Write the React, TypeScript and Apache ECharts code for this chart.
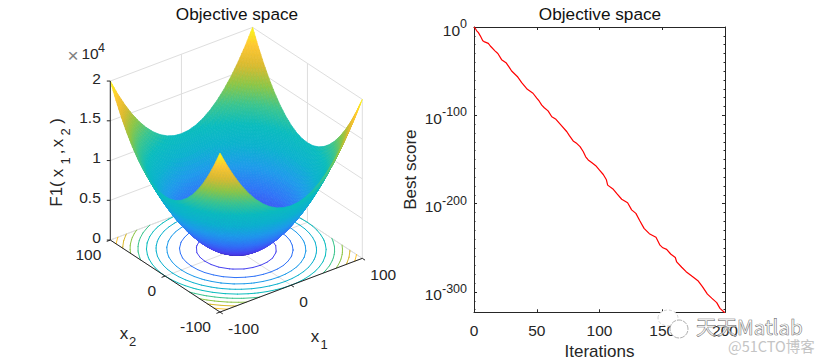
import React, { useEffect, useRef } from "react";
import * as echarts from "echarts";

const FONT = '"Liberation Sans", Arial, sans-serif';
const INK = "#262626";
const GRID = "#dedede";

// ---- left panel: surface samples
const gridX1 = [-100, -90, -80, -70, -60, -50, -40, -30, -20, -10, 0, 10, 20, 30, 40, 50, 60, 70, 80, 90, 100];
const gridX2 = [-100, -90, -80, -70, -60, -50, -40, -30, -20, -10, 0, 10, 20, 30, 40, 50, 60, 70, 80, 90, 100];
const zTable = [
  [20000,18100,16400,14900,13600,12500,11600,10900,10400,10100,10000,10100,10400,10900,11600,12500,13600,14900,16400,18100,20000],
  [18100,16200,14500,13000,11700,10600,9700,9000,8500,8200,8100,8200,8500,9000,9700,10600,11700,13000,14500,16200,18100],
  [16400,14500,12800,11300,10000,8900,8000,7300,6800,6500,6400,6500,6800,7300,8000,8900,10000,11300,12800,14500,16400],
  [14900,13000,11300,9800,8500,7400,6500,5800,5300,5000,4900,5000,5300,5800,6500,7400,8500,9800,11300,13000,14900],
  [13600,11700,10000,8500,7200,6100,5200,4500,4000,3700,3600,3700,4000,4500,5200,6100,7200,8500,10000,11700,13600],
  [12500,10600,8900,7400,6100,5000,4100,3400,2900,2600,2500,2600,2900,3400,4100,5000,6100,7400,8900,10600,12500],
  [11600,9700,8000,6500,5200,4100,3200,2500,2000,1700,1600,1700,2000,2500,3200,4100,5200,6500,8000,9700,11600],
  [10900,9000,7300,5800,4500,3400,2500,1800,1300,1000,900,1000,1300,1800,2500,3400,4500,5800,7300,9000,10900],
  [10400,8500,6800,5300,4000,2900,2000,1300,800,500,400,500,800,1300,2000,2900,4000,5300,6800,8500,10400],
  [10100,8200,6500,5000,3700,2600,1700,1000,500,200,100,200,500,1000,1700,2600,3700,5000,6500,8200,10100],
  [10000,8100,6400,4900,3600,2500,1600,900,400,100,0,100,400,900,1600,2500,3600,4900,6400,8100,10000],
  [10100,8200,6500,5000,3700,2600,1700,1000,500,200,100,200,500,1000,1700,2600,3700,5000,6500,8200,10100],
  [10400,8500,6800,5300,4000,2900,2000,1300,800,500,400,500,800,1300,2000,2900,4000,5300,6800,8500,10400],
  [10900,9000,7300,5800,4500,3400,2500,1800,1300,1000,900,1000,1300,1800,2500,3400,4500,5800,7300,9000,10900],
  [11600,9700,8000,6500,5200,4100,3200,2500,2000,1700,1600,1700,2000,2500,3200,4100,5200,6500,8000,9700,11600],
  [12500,10600,8900,7400,6100,5000,4100,3400,2900,2600,2500,2600,2900,3400,4100,5000,6100,7400,8900,10600,12500],
  [13600,11700,10000,8500,7200,6100,5200,4500,4000,3700,3600,3700,4000,4500,5200,6100,7200,8500,10000,11700,13600],
  [14900,13000,11300,9800,8500,7400,6500,5800,5300,5000,4900,5000,5300,5800,6500,7400,8500,9800,11300,13000,14900],
  [16400,14500,12800,11300,10000,8900,8000,7300,6800,6500,6400,6500,6800,7300,8000,8900,10000,11300,12800,14500,16400],
  [18100,16200,14500,13000,11700,10600,9700,9000,8500,8200,8100,8200,8500,9000,9700,10600,11700,13000,14500,16200,18100],
  [20000,18100,16400,14900,13600,12500,11600,10900,10400,10100,10000,10100,10400,10900,11600,12500,13600,14900,16400,18100,20000],
];
const contourLevels = [2000, 4000, 6000, 8000, 10000, 12000, 14000, 16000, 18000];
const x1Ticks = [-100, 0, 100];
const x2Ticks = [-100, 0, 100];
const zTicks = [0, 5000, 10000, 15000, 20000];
const zTickLabels = ["0", "0.5", "1", "1.5", "2"];
const parulaStops = [
  [62, 38, 168], [71, 66, 240], [48, 115, 248], [30, 155, 235], [12, 178, 206], [10, 188, 190],
  [60, 197, 142], [140, 198, 70], [218, 186, 48], [254, 198, 50], [249, 251, 21],
];

// ---- right panel: convergence curve (log10 of best score)
const iterations = [0, 1, 2, 3.5, 5, 7, 8, 11.4, 13, 16.7, 19, 22, 25.5, 28, 30, 34.5, 38, 42.5, 47, 50, 52, 54, 56, 59, 62, 65.3, 69, 74, 76, 79, 82, 84.5, 87, 89, 91, 94, 97, 100, 103, 105.5, 106.5, 111, 114, 117.7, 122.4, 125.6, 129, 132, 135.5, 139.7, 145, 148.2, 150.5, 153.5, 156.7, 160.4, 161.5, 165.5, 169, 173.5, 178.7, 182, 186, 189.4, 193.4, 196, 199.4, 200];
const bestScoreLog10 = [0, -1.5, -4, -6.4, -10, -15.5, -16.5, -18.5, -21.5, -27, -30, -37, -40.4, -45.5, -49.8, -56, -63, -70.6, -75, -80.5, -84, -88.5, -91.4, -95, -101.6, -104.5, -110.5, -118.6, -123, -129, -132, -135.5, -141, -147, -150.5, -153.7, -157, -162, -167, -173, -179, -183.8, -189, -195, -199, -207, -211, -219, -228, -234, -238, -247, -250, -251.8, -257, -261, -266, -272, -277, -282, -287.6, -294, -302.4, -307, -312, -318.6, -323, -323];
const yMajorExponents = [-300, -200, -100, 0];
const yMinorExponents = [-320, -310, -290, -280, -270, -260, -250, -240, -230, -220, -210, -190, -180, -170, -160, -150, -140, -130, -120, -110, -90, -80, -70, -60, -50, -40, -30, -20, -10];
const xTicks = [0, 50, 100, 150, 200];

// view transform of the left axes
const ORIGIN = [236.3, 249.2];
const X1_DIR = [0.7115, -0.2685];
const X2_DIR = [-0.5485, -0.36];
const Z_SCALE = -159 / 20000;

const project = (x1: number, x2: number, z: number): [number, number] => [
  ORIGIN[0] + X1_DIR[0] * x1 + X2_DIR[0] * x2,
  ORIGIN[1] + X1_DIR[1] * x1 + X2_DIR[1] * x2 + Z_SCALE * z,
];

const parula = (t: number) => {
  const p = Math.max(0, Math.min(1, t)) * (parulaStops.length - 1);
  const i = Math.min(parulaStops.length - 2, Math.floor(p));
  const f = p - i;
  const c = parulaStops[i].map((v, k) => Math.round(v + (parulaStops[i + 1][k] - v) * f));
  return `rgb(${c[0]},${c[1]},${c[2]})`;
};

const SUB = 4;
const surfaceCells: number[][] = [];
for (let j = gridX2.length - 2; j >= 0; j--) {
  for (let i = gridX1.length - 2; i >= 0; i--) surfaceCells.push([i, j]);
}

const renderSurface = (params: any, api: any) => {
  const i = api.value(0);
  const j = api.value(1);
  const x0 = gridX1[i];
  const y0 = gridX2[j];
  const dx = gridX1[i + 1] - x0;
  const dy = gridX2[j + 1] - y0;
  const z00 = zTable[j][i];
  const z10 = zTable[j][i + 1];
  const z01 = zTable[j + 1][i];
  const z11 = zTable[j + 1][i + 1];
  const zAt = (a: number, b: number) =>
    z00 * (1 - a) * (1 - b) + z10 * a * (1 - b) + z01 * (1 - a) * b + z11 * a * b;
  const pt = (a: number, b: number) => api.coord(project(x0 + dx * a, y0 + dy * b, zAt(a, b)));
  const children: any[] = [];
  for (let q = SUB - 1; q >= 0; q--) {
    for (let p = SUB - 1; p >= 0; p--) {
      const a0 = p / SUB, a1 = (p + 1) / SUB, b0 = q / SUB, b1 = (q + 1) / SUB;
      const col = parula(zAt((a0 + a1) / 2, (b0 + b1) / 2) / 20000);
      children.push({
        type: "polygon",
        shape: { points: [pt(a0, b0), pt(a1, b0), pt(a1, b1), pt(a0, b1)] },
        style: { fill: col, stroke: col, lineWidth: 0.7 },
      });
    }
  }
  return { type: "group", children, silent: true };
};

const renderContour = (params: any, api: any) => {
  const level = api.value(0);
  const col = parula(level / 20000);
  const children: any[] = [];
  for (let j = 0; j < gridX2.length - 1; j++) {
    for (let i = 0; i < gridX1.length - 1; i++) {
      const corners = [[i, j], [i + 1, j], [i + 1, j + 1], [i, j + 1]];
      const hits: number[][] = [];
      for (let k = 0; k < 4; k++) {
        const [ai, aj] = corners[k];
        const [bi, bj] = corners[(k + 1) % 4];
        const za = zTable[aj][ai];
        const zb = zTable[bj][bi];
        if (za < level !== zb < level) {
          const f = (level - za) / (zb - za);
          hits.push(api.coord(project(
            gridX1[ai] + (gridX1[bi] - gridX1[ai]) * f,
            gridX2[aj] + (gridX2[bj] - gridX2[aj]) * f,
            0,
          )));
        }
      }
      if (hits.length === 2) {
        children.push({
          type: "line",
          shape: { x1: hits[0][0], y1: hits[0][1], x2: hits[1][0], y2: hits[1][1] },
          style: { stroke: col, lineWidth: 1, lineCap: "round" },
        });
      }
    }
  }
  return { type: "group", children, silent: true };
};

const seg = (api: any, a: [number, number], b: [number, number], stroke: string) => {
  const p = api.coord(a);
  const q = api.coord(b);
  return { type: "line", shape: { x1: p[0], y1: p[1], x2: q[0], y2: q[1] }, style: { stroke, lineWidth: 1 } };
};

const renderWalls = (params: any, api: any) => {
  const c: any[] = [];
  for (const z of zTicks) {
    c.push(seg(api, project(-100, 100, z), project(100, 100, z), GRID));
    c.push(seg(api, project(100, 100, z), project(100, -100, z), GRID));
  }
  for (const x of x1Ticks) {
    c.push(seg(api, project(x, 100, 0), project(x, 100, 20000), GRID));
    c.push(seg(api, project(x, -100, 0), project(x, 100, 0), GRID));
  }
  for (const y of x2Ticks) {
    c.push(seg(api, project(100, y, 0), project(100, y, 20000), GRID));
    c.push(seg(api, project(-100, y, 0), project(100, y, 0), GRID));
  }
  return { type: "group", children: c, silent: true };
};

const label = (api: any, at: [number, number], dx: number, dy: number, text: string, align: string) => {
  const p = api.coord(at);
  return {
    type: "text",
    style: { text, x: p[0] + dx, y: p[1] + dy, fill: INK, font: `15.5px ${FONT}`, align, verticalAlign: "middle" },
  };
};

const renderAxes = (params: any, api: any) => {
  const c: any[] = [];
  c.push(seg(api, project(-100, 100, 0), project(-100, 100, 20000), INK));
  c.push(seg(api, project(-100, 100, 0), project(-100, -100, 0), INK));
  c.push(seg(api, project(-100, -100, 0), project(100, -100, 0), INK));
  zTicks.forEach((z, k) => {
    const p = project(-100, 100, z);
    c.push(seg(api, p, [p[0] - 3.5, p[1]], INK));
    c.push(label(api, p, -9.5, -3, zTickLabels[k], "right"));
  });
  x1Ticks.forEach((x) => {
    const p = project(x, -100, 0);
    c.push(seg(api, p, project(x, -105, 0), INK));
    c.push(label(api, p, 8, 16, String(x), "left"));
  });
  x2Ticks.forEach((y) => {
    const p = project(-100, y, 0);
    c.push(seg(api, p, project(-105, y, 0), INK));
    c.push(label(api, p, -9, 14, String(y), "right"));
  });
  return { type: "group", children: c, silent: true };
};

const txt = (text: string, x: number, y: number, size: number, extra: any = {}) => ({
  type: "text",
  x,
  y,
  silent: true,
  rotation: extra.rotation ?? 0,
  z: 50,
  style: {
    text,
    fill: extra.fill ?? INK,
    font: `${size}px ${extra.family ?? FONT}`,
    align: extra.align ?? "center",
    verticalAlign: "middle",
    ...(extra.style ?? {}),
  },
});

const R = Math.PI / 2;
const graphics = [
  txt("×", 73, 55, 19, { fill: "#808080" }),
  txt("10", 90, 53, 15.5),
  txt("4", 101.5, 48, 12.5),
  txt("F1(", 56, 194, 17, { rotation: R }),
  txt("x", 57, 173, 17, { rotation: R }),
  txt("1", 65, 161, 13, { rotation: R }),
  txt(",", 57, 152, 17, { rotation: R }),
  txt("x", 57, 143, 17, { rotation: R }),
  txt("2", 65, 132, 13, { rotation: R }),
  txt(")", 56, 121, 17, { rotation: R }),
  txt("x", 315, 336, 17),
  txt("1", 324, 344, 13),
  txt("x", 124, 333, 17),
  txt("2", 132.7, 341, 13),
  // watermark
  {
    type: "ellipse", silent: true, z: 60,
    shape: { cx: 668, cy: 318, rx: 10, ry: 8 },
    style: { fill: "#fff", stroke: "#c8c8c8", lineWidth: 0.8, lineDash: [3, 2] },
  },
  {
    type: "ellipse", silent: true, z: 61,
    shape: { cx: 679, cy: 329, rx: 9, ry: 9 },
    style: { fill: "#fff", stroke: "#9a9a9a", lineWidth: 0.8, lineDash: [5, 1] },
  },
  {
    type: "text", silent: true, z: 62, x: 696, y: 326,
    style: {
      text: "天天Matlab", fill: "rgba(255,255,255,0.55)", stroke: "#5a5a5a", lineWidth: 0.7,
      font: `20.5px "Noto Sans CJK SC", ${FONT}`, align: "left", verticalAlign: "middle",
    },
  },
  {
    type: "text", silent: true, z: 62, x: 728, y: 345,
    style: {
      text: "@51CTO博客", fill: "#c4c4c4",
      font: `14.5px "Noto Sans CJK SC", ${FONT}`, align: "left", verticalAlign: "middle",
    },
  },
];

const hiddenLine = { show: false };
const axisInk = { lineStyle: { color: INK, width: 1 } };
const titleStyle = { fontSize: 17.2, fontWeight: "normal", color: "#111", fontFamily: FONT };

const option: any = {
  animation: false,
  backgroundColor: "#fff",
  textStyle: { fontFamily: FONT },
  title: [
    { text: "Objective space", left: 237, top: 5, padding: 0, textAlign: "center", textStyle: titleStyle },
    { text: "Objective space", left: 600, top: 5, padding: 0, textAlign: "center", textStyle: titleStyle },
  ],
  grid: [
    { left: 0, top: 0, width: 825, height: 362, show: false, outerBoundsMode: "none" },
    { left: 474, top: 27, width: 251, height: 285.3, show: false, outerBoundsMode: "none" },
  ],
  xAxis: [
    { gridIndex: 0, type: "value", min: 0, max: 825, show: false },
    {
      gridIndex: 1, type: "value", min: 0, max: 200, interval: 50, position: "bottom",
      name: "Iterations", nameLocation: "middle", nameGap: 31,
      nameTextStyle: { fontSize: 17, color: INK, fontFamily: FONT },
      axisLine: { show: true, onZero: false, ...axisInk },
      axisTick: { show: true, inside: true, length: 3, customValues: xTicks, ...axisInk },
      axisLabel: { show: true, color: INK, fontSize: 15.5, margin: 10, fontFamily: FONT, customValues: xTicks, formatter: (v: number) => String(v) },
      splitLine: hiddenLine,
    },
    {
      gridIndex: 1, type: "value", min: 0, max: 200, interval: 50, position: "top",
      axisLine: { show: true, onZero: false, ...axisInk },
      axisTick: { show: true, inside: true, length: 3, customValues: xTicks, ...axisInk },
      axisLabel: { show: false },
      splitLine: hiddenLine,
    },
  ],
  yAxis: [
    { gridIndex: 0, type: "value", min: 0, max: 362, inverse: true, show: false },
    {
      gridIndex: 1, type: "value", min: -323, max: 0, position: "left",
      name: "Best score", nameLocation: "middle", nameGap: 55,
      nameTextStyle: { fontSize: 17, color: INK, fontFamily: FONT },
      axisLine: { show: true, onZero: false, ...axisInk },
      axisTick: { show: true, inside: true, length: 3, customValues: yMajorExponents, ...axisInk },
      axisLabel: {
        show: true, margin: 7, customValues: yMajorExponents, showMinLabel: true, showMaxLabel: true,
        formatter: (v: number) => `{b|10}{e|${v}}`,
        rich: {
          b: { fontSize: 15.5, color: INK, fontFamily: FONT, padding: [6, 0, 0, 0] },
          e: { fontSize: 12.5, color: INK, fontFamily: FONT, padding: [0, 0, 6, 0] },
        },
      },
      splitLine: hiddenLine,
    },
    {
      gridIndex: 1, type: "value", min: -323, max: 0, position: "right",
      axisLine: { show: true, onZero: false, ...axisInk },
      axisTick: { show: true, inside: true, length: 3, customValues: yMajorExponents, ...axisInk },
      axisLabel: { show: false },
      splitLine: hiddenLine,
    },
    {
      gridIndex: 1, type: "value", min: -323, max: 0, position: "left",
      axisLine: { show: false, onZero: false },
      axisTick: { show: true, inside: true, length: 1.5, customValues: yMinorExponents, ...axisInk },
      axisLabel: { show: false },
      splitLine: hiddenLine,
    },
    {
      gridIndex: 1, type: "value", min: -323, max: 0, position: "right",
      axisLine: { show: false, onZero: false },
      axisTick: { show: true, inside: true, length: 1.5, customValues: yMinorExponents, ...axisInk },
      axisLabel: { show: false },
      splitLine: hiddenLine,
    },
  ],
  series: [
    { type: "custom", xAxisIndex: 0, yAxisIndex: 0, clip: false, silent: true, z: 1, data: [[0, 0]], renderItem: renderWalls },
    { type: "custom", xAxisIndex: 0, yAxisIndex: 0, clip: false, silent: true, z: 2, data: contourLevels.map((l) => [l, 0]), renderItem: renderContour },
    { type: "custom", xAxisIndex: 0, yAxisIndex: 0, clip: false, silent: true, z: 3, progressive: 0, data: surfaceCells, renderItem: renderSurface },
    { type: "custom", xAxisIndex: 0, yAxisIndex: 0, clip: false, silent: true, z: 4, data: [[0, 0]], renderItem: renderAxes },
    {
      type: "line", xAxisIndex: 1, yAxisIndex: 1, showSymbol: false, silent: true, z: 5,
      lineStyle: { color: "#ff0000", width: 1.2 },
      data: iterations.map((x, k) => [x, bestScoreLog10[k]]),
    },
  ],
  graphic: graphics,
};

export default function App() {
  const ref = useRef<HTMLDivElement>(null);
  useEffect(() => {
    document.body.style.margin = "0";
    const chart = echarts.init(ref.current!, undefined, { renderer: "svg" });
    chart.setOption(option);
    return () => chart.dispose();
  }, []);
  return <div ref={ref} style={{ width: 825, height: 362 }} />;
}
